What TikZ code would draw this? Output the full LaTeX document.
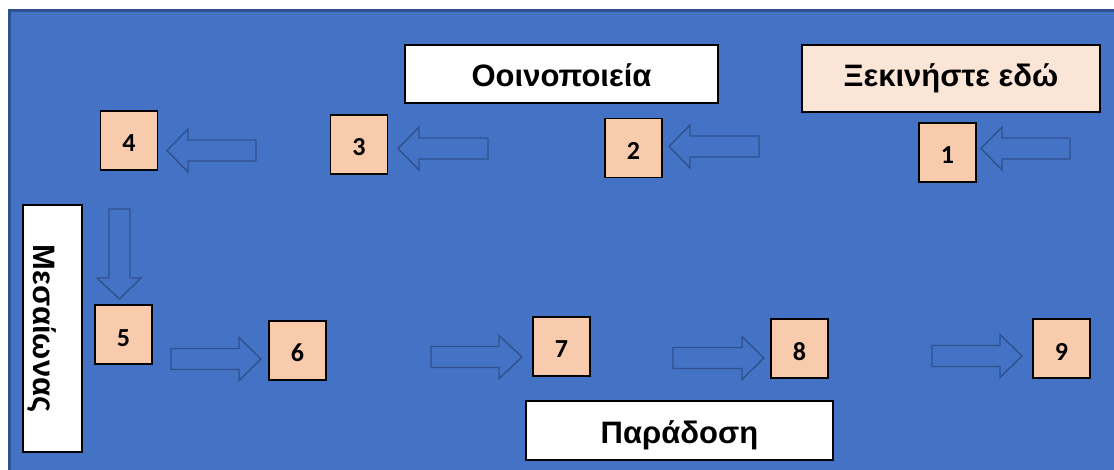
\documentclass[tikz,border=0pt]{standalone}
\usepackage{fontspec}
\setmainfont{Liberation Sans}
\newfontfamily\digfont{Carlito}
\definecolor{bgblue}{HTML}{4472C4}
\definecolor{frameblue}{HTML}{2F528F}
\definecolor{peach}{HTML}{F8CBAD}
\definecolor{lightpeach}{HTML}{FBE5D6}
\newcommand\blockH[4]{% tail, head back, tip, centre y
  \draw[blockarrow] (#1,#4-10.5) -- (#2,#4-10.5) -- (#2,#4-21.5) -- (#3,#4) -- (#2,#4+21.5) -- (#2,#4+10.5) -- (#1,#4+10.5) -- cycle;}
\begin{document}
\begin{tikzpicture}[x=1pt,y=-1pt,
  numbox/.style={draw=black, line width=1.3pt, fill=peach, minimum width=57pt, minimum height=59pt, inner sep=0pt,
    font=\digfont\bfseries\fontsize{26}{30}\selectfont, text height=23pt, text depth=0pt},
  labelbox/.style={draw=black, line width=1.3pt, fill=white, inner sep=0pt,
    font=\bfseries\fontsize{31}{36}\selectfont, text depth=0pt},
  blockarrow/.style={draw=frameblue, line width=1.4pt, line join=miter}]
\useasboundingbox (0,0) rectangle (1114,470);
\clip (0,0) rectangle (1114,470);
\fill[white] (0,0) rectangle (1114,470);
\draw[fill=bgblue, draw=frameblue, line width=3pt] (9.5,11) rectangle (1120,476);
% block arrows
\blockH{1070}{1002}{981}{148.5}
\blockH{759}{690}{669}{146.5}
\blockH{488}{419}{398}{148.5}
\blockH{256}{188}{167}{150.5}
\blockH{171}{239}{261}{359}
\blockH{431}{499}{522}{357}
\blockH{673}{742}{764}{358}
\blockH{932}{1000}{1022}{356}
\draw[blockarrow] (109,209) -- (109,278) -- (97,278) -- (119.5,299) -- (141,278) -- (130,278) -- (130,209) -- cycle;
% numbered boxes
\node[numbox] (b1) at (947.5,152.5) {1};
\node[numbox] (b2) at (633.5,148) {2};
\node[numbox] (b3) at (359,144.5) {3};
\node[numbox] (b4) at (129,140.5) {4};
\node[numbox] (b5) at (123.5,334.5) {5};
\node[numbox] (b6) at (297.5,350.5) {6};
\node[numbox] (b7) at (561.5,346.5) {7};
\node[numbox] (b8) at (799.5,348.5) {8};
\node[numbox] (b9) at (1061.5,348.5) {9};
% labels
\node[labelbox, fill=lightpeach, minimum width=298pt, minimum height=67pt, text height=17pt] (start) at (951,78.5) {Ξεκινήστε εδώ};
\node[labelbox, minimum width=313pt, minimum height=58pt, text height=26pt] (oin) at (561.5,74) {Οοινοποιεία};
\node[labelbox, minimum width=307pt, minimum height=59pt, text height=25pt] (par) at (679.5,430.5) {Παράδοση};
\node[labelbox, rotate=-90, minimum width=247pt, minimum height=59pt, text height=37pt] (mes) at (52.5,328.5) {Μεσαίωνας};
\end{tikzpicture}
\end{document}
